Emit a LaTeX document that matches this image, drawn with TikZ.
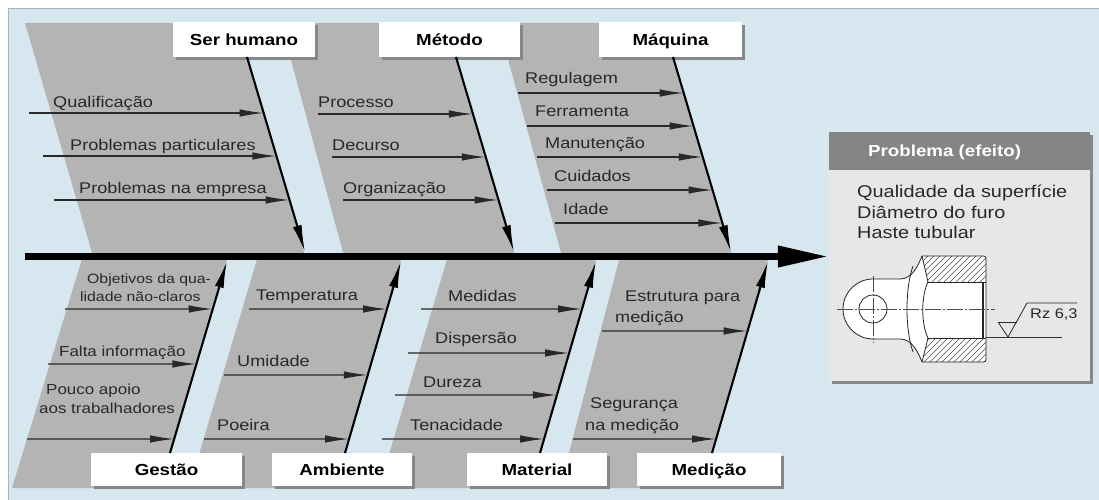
\documentclass[tikz,border=0pt]{standalone}
\usepackage{fontspec}
\setmainfont{Liberation Sans}[FakeStretch=1.17]
\usetikzlibrary{arrows.meta,shadows,calc}
\definecolor{bgblue}{RGB}{214,231,240}
\definecolor{bordc}{RGB}{170,180,188}
\definecolor{bandgray}{RGB}{180,180,181}
\definecolor{labc}{RGB}{40,40,40}
\definecolor{shadowc}{RGB}{135,135,138}
\definecolor{headgray}{RGB}{133,133,133}
\definecolor{effbody}{RGB}{231,231,231}
\tikzset{
  lab/.style={inner sep=0pt, anchor=base west, text=labc, font=\fontsize{15.5}{18}\selectfont},
  labs/.style={lab, font=\fontsize{14.5}{17}\selectfont},
  labxs/.style={lab, font=\fontsize{13.5}{16}\selectfont},
  titlebox/.style={fill=white, inner sep=0pt, minimum height=35pt, text height=12pt, text depth=0.5pt,
    text=black, font=\bfseries\fontsize{16}{19}\selectfont,
    drop shadow={shadow xshift=3pt, shadow yshift=-3pt, fill=shadowc, opacity=1}},
  bone/.style={line width=2.1pt, draw=black, -{Latex[length=27pt,width=9pt]}},
  twigarrow/.style={line width=1.3pt, draw=labc, -{Latex[length=24pt,width=7.5pt]}},
  spine/.style={line width=7pt, draw=black, -{Triangle[length=51pt,width=20pt]}},
  part/.style={draw=black!85, line width=0.8pt},
  hatchline/.style={draw=black!70, line width=0.45pt},
  cline/.style={draw=black!70, line width=0.45pt, dash pattern=on 16pt off 2pt on 2pt off 2pt},
}
\newcommand\twig[4]{%
  \coordinate (#1s) at (#3,#4);
  \coordinate (#1h) at (#3+10,#4);
  \coordinate (#1e) at (intersection of #1s--#1h and #2s--#2t);
  \draw[twigarrow] (#1s) -- (#1e);}
\begin{document}
\begin{tikzpicture}[x=1pt,y=-1pt]
\useasboundingbox (0,0) rectangle (1099,500);
% background
\fill[bgblue] (8,8) rectangle (1099,500);
\draw[bordc, line width=0.8pt] (1099,8) -- (8,8) -- (8,500);
% bands
\fill[bandgray] (25,23) -- (237,23) -- (305,256) -- (93,256) -- cycle;
\fill[bandgray] (281,23) -- (446,23) -- (515,256) -- (344,256) -- cycle;
\fill[bandgray] (498,23) -- (663,23) -- (732,256) -- (562,256) -- cycle;
\fill[bandgray] (83,256) -- (228,256) -- (160,488) -- (12,488) -- cycle;
\fill[bandgray] (258,256) -- (402,256) -- (335,488) -- (189,488) -- cycle;
\fill[bandgray] (448,256) -- (597,256) -- (530,488) -- (379,488) -- cycle;
\fill[bandgray] (620,256) -- (769,256) -- (702,488) -- (560,488) -- cycle;
% category boxes
\node[titlebox, minimum width=142pt] (sh) at (244,39.5) {Ser humano};
\node[titlebox, minimum width=141pt] (me) at (449.5,39.5) {Método};
\node[titlebox, minimum width=143pt] (ma) at (670.5,39.5) {Máquina};
\node[titlebox, minimum width=151pt, minimum height=33pt] (ge) at (166.5,469.5) {Gestão};
\node[titlebox, minimum width=140pt, minimum height=33pt] (am) at (342,469.5) {Ambiente};
\node[titlebox, minimum width=140pt, minimum height=33pt] (mt) at (537,469.5) {Material};
\node[titlebox, minimum width=144pt, minimum height=33pt] (md) at (709,469.5) {Medição};
% effect box
\node[fill=effbody, minimum width=261pt, minimum height=249pt, inner sep=0pt,
  drop shadow={shadow xshift=3pt, shadow yshift=-3pt, fill=shadowc, opacity=1}] (effect) at (959.5,256.5) {};
\node[fill=headgray, anchor=north, minimum width=261pt, minimum height=38pt, inner sep=0pt] (effhead) at (effect.north) {};
\node[inner sep=0pt, anchor=base west, text=white, font=\bfseries\fontsize{16}{19}\selectfont] (efftitle) at (868,156) {Problema (efeito)};
\node[inner sep=0pt, anchor=base west, text=labc, font=\fontsize{17}{20}\selectfont] (eff1) at (857,197) {Qualidade da superfície};
\node[inner sep=0pt, anchor=base west, text=labc, font=\fontsize{17}{20}\selectfont] (eff2) at (857,218) {Diâmetro do furo};
\node[inner sep=0pt, anchor=base west, text=labc, font=\fontsize{17}{20}\selectfont] (eff3) at (857,238) {Haste tubular};
% spine
\coordinate (spl) at (25,256.5);
\draw[spine] (spl) -- (effect.west);
% main bones
\coordinate (shs) at (247,57);  \coordinate (sht) at (305,252);
\coordinate (mes) at (456,57);  \coordinate (met) at (514,252);
\coordinate (mas) at (673,57);  \coordinate (mat) at (731,252);
\coordinate (ges) at (170,453); \coordinate (get) at (227,261);
\coordinate (ams) at (345,453); \coordinate (amt) at (401,261);
\coordinate (mts) at (540,453); \coordinate (mtt) at (596,261);
\coordinate (mds) at (712,453); \coordinate (mdt) at (768,261);
\foreach \b in {sh,me,ma,ge,am,mt,md} \draw[bone] (\b s) -- (\b t);
% twigs and labels
\twig{aa}{sh}{29}{113}  \node[lab] (aal) at (53,107) {Qualificação};
\twig{ab}{sh}{43}{156}  \node[lab] (abl) at (70,150) {Problemas particulares};
\twig{ac}{sh}{54}{200}  \node[lab] (acl) at (79,193) {Problemas na empresa};
\twig{ba}{me}{318}{114} \node[lab] (bal) at (318,107) {Processo};
\twig{bb}{me}{332}{157} \node[lab] (bbl) at (332,150) {Decurso};
\twig{bc}{me}{343}{200} \node[lab] (bcl) at (343,193) {Organização};
\twig{ca}{ma}{518}{93}  \node[lab] (cal) at (525,84) {Regulagem};
\twig{cb}{ma}{527}{126} \node[lab] (cbl) at (535,117) {Ferramenta};
\twig{cc}{ma}{537}{157} \node[lab] (ccl) at (545,148) {Manutenção};
\twig{cd}{ma}{547}{190} \node[lab] (cdl) at (554,181) {Cuidados};
\twig{ce}{ma}{555}{223} \node[lab] (cel) at (563,214) {Idade};
\twig{da}{ge}{65}{309}  \node[labxs] (dal1) at (87,283) {Objetivos da qua-};
                        \node[labxs] (dal2) at (80,301) {lidade não-claros};
\twig{db}{ge}{48}{364}  \node[labs] (dbl) at (59,356) {Falta informação};
\twig{dc}{ge}{27}{439}  \node[labs] (dcl1) at (46,394) {Pouco apoio};
                        \node[labs] (dcl2) at (39,413) {aos trabalhadores};
\twig{ea}{am}{249}{309} \node[lab] (eal) at (256,300) {Temperatura};
\twig{eb}{am}{224}{375} \node[lab] (ebl) at (237,366) {Umidade};
\twig{ec}{am}{204}{439} \node[lab] (ecl) at (217,430) {Poeira};
\twig{fa}{mt}{421}{309} \node[lab] (fal) at (448,301) {Medidas};
\twig{fb}{mt}{408}{353} \node[lab] (fbl) at (435,343) {Dispersão};
\twig{fc}{mt}{395}{395} \node[lab] (fcl) at (423,387) {Dureza};
\twig{fd}{mt}{382}{439} \node[lab] (fdl) at (410,430) {Tenacidade};
\twig{ga}{md}{602}{331} \node[lab] (gal1) at (625,301) {Estrutura para};
                        \node[lab] (gal2) at (615,322) {medição};
\twig{gb}{md}{573}{439} \node[lab] (gbl1) at (590,408) {Segurança};
                        \node[lab] (gbl2) at (585,430) {na medição};
% part drawing
\fill[white] (900,279) -- (873,279) arc[start angle=270, end angle=90, radius=30] -- (900,339)
  .. controls (912,339) and (918,352) .. (922,362) -- (986,362) -- (986,256) -- (922,256)
  .. controls (918,266) and (912,279) .. (900,279) -- cycle;
\begin{scope}
  \clip (922,256) -- (986,256) -- (986,282) -- (928,282) -- cycle;
  \foreach \i in {0,...,19} \draw[hatchline] (878+\i*6,300) -- ++(60,-60);
\end{scope}
\begin{scope}
  \clip (928,338) -- (986,338) -- (986,362) -- (922,362) -- cycle;
  \foreach \i in {0,...,19} \draw[hatchline] (858+\i*6,380) -- ++(60,-60);
\end{scope}
\draw[part] (900,279) -- (873,279) arc[start angle=270, end angle=90, radius=30] -- (900,339);
\draw[part] (900,279) .. controls (912,279) and (918,266) .. (922,256);
\draw[part] (900,339) .. controls (912,339) and (918,352) .. (922,362);
\draw[part, rounded corners=2.5pt] (922,256) -- (986,256) -- (986,362) -- (922,362);
\draw[part] (928,282) -- (986,282);
\draw[part] (928,338) -- (986,338);
\draw[line width=1.4pt, black!85] (983,282) -- (983,338);
\draw[part] (922,256) -- (928,282);
\draw[part] (922,362) -- (928,338);
\draw[part] (928,282) .. controls (921,296) and (921,324) .. (928,338);
\draw[part] (913,266) .. controls (905,288) and (905,330) .. (913,352);
\draw[part] (873,309) circle[radius=14];
\draw[cline] (837,309) -- (995,309);
\draw[cline] (873,276) -- (873,343);
% surface symbol
\draw[black!80, line width=0.5pt] (986,337) -- (1062,337);
\draw[part] (998,322) -- (1017,322);
\draw[part] (998,322) -- (1008,337) -- (1027,303) -- (1077,303);
\node[inner sep=0pt, anchor=base west, text=labc, font=\fontsize{14}{17}\selectfont] (rz) at (1030,318) {Rz 6,3};
\end{tikzpicture}
\end{document}
